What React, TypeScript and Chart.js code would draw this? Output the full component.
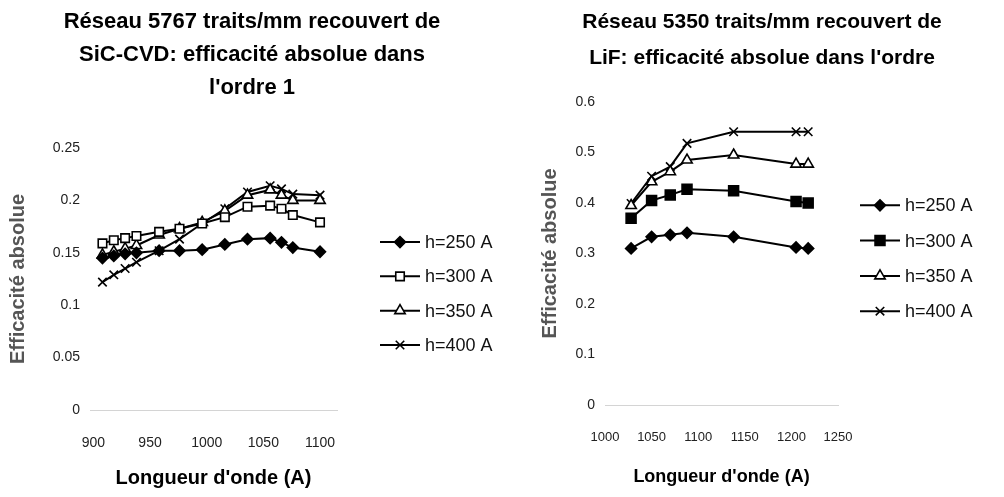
import React, { useEffect, useRef } from 'react';
import { Chart, registerables, layouts } from 'chart.js';
import { drawPoint } from 'chart.js/helpers';

Chart.register(...registerables);

const FONT_FAMILY = '"Liberation Sans", Arial, Helvetica, sans-serif';

// ---------- Shared labels ----------
const seriesLabels = ['h=250 A', 'h=300 A', 'h=350 A', 'h=400 A'];
const yAxisTitle = 'Efficacité absolue';
const xAxisTitle = "Longueur d'onde (A)";

// ---------- Left chart: SiC-CVD ----------
const sicTitle = ['Réseau 5767 traits/mm recouvert de', 'SiC-CVD: efficacité absolue dans', "l'ordre 1"];
const sicWavelengths = [908, 918, 928, 938, 958, 976, 996, 1016, 1036, 1056, 1066, 1076, 1100];
const sicH250 = [0.145, 0.147, 0.149, 0.15, 0.152, 0.152, 0.153, 0.158, 0.163, 0.164, 0.16, 0.155, 0.151];
const sicH300 = [0.159, 0.162, 0.164, 0.166, 0.17, 0.173, 0.178, 0.184, 0.194, 0.195, 0.192, 0.186, 0.179];
const sicH350 = [0.148, 0.151, 0.154, 0.157, 0.167, 0.173, 0.179, 0.19, 0.205, 0.21, 0.205, 0.2, 0.2];
const sicH400 = [0.122, 0.129, 0.135, 0.141, 0.152, 0.163, 0.178, 0.192, 0.208, 0.214, 0.211, 0.206, 0.205];
const sicXTicks = [900, 950, 1000, 1050, 1100];
const sicYTicks = [0, 0.05, 0.1, 0.15, 0.2, 0.25];

// ---------- Right chart: LiF ----------
const lifTitle = ['Réseau 5350 traits/mm recouvert de', "LiF: efficacité absolue dans l'ordre"];
const lifWavelengths = [1028, 1050, 1070, 1088, 1138, 1205, 1218];
const lifH250 = [0.31, 0.333, 0.337, 0.341, 0.333, 0.312, 0.31];
const lifH300 = [0.37, 0.405, 0.416, 0.427, 0.424, 0.403, 0.4];
const lifH350 = [0.395, 0.442, 0.462, 0.485, 0.495, 0.477, 0.477];
const lifH400 = [0.399, 0.453, 0.472, 0.518, 0.541, 0.541, 0.541];
const lifXTicks = [1000, 1050, 1100, 1150, 1200, 1250];
const lifYTicks = [0, 0.1, 0.2, 0.3, 0.4, 0.5, 0.6];

type PanelOpts = {
  title: string[];
  titleSize: number;
  titleLineHeight: number;
  titlePadTop: number;
  titlePadBottom: number;
  xs: number[];
  series: number[][];
  xMin: number;
  xMax: number;
  xTicks: number[];
  yMax: number;
  yTicks: number[];
  squareFilled: boolean;
  yAxisWidth: number;
  xAxisHeight: number;
  xTickSize: number;
  xTickPad: number;
  yTickSize: number;
  yTickPad: number;
  xTitleSize: number;
  xTitlePadBottom: number;
  yTitleSize: number;
  yTitlePadTop: number;
  legendWidth: number;
  legendLineStart: number;
  legendTextStart: number;
  legendRowGap: number;
  legendYOffset: number;
};

// A right-hand layout box that draws an Excel-like legend (line + marker + label)
function makeLegendBox(o: PanelOpts) {
  const box: any = {
    position: 'right',
    weight: 0,
    fullSize: false,
    options: {},
    top: 0,
    left: 0,
    right: 0,
    bottom: 0,
    width: 0,
    height: 0,
    chart: null as any,
    isHorizontal() {
      return false;
    },
    update(_maxWidth: number, maxHeight: number) {
      this.width = o.legendWidth;
      this.height = maxHeight;
    },
    draw() {
      const chart = this.chart;
      if (!chart) return;
      const ctx: CanvasRenderingContext2D = chart.ctx;
      const datasets = chart.data.datasets;
      const n = datasets.length;
      const midY = (this.top + this.bottom) / 2 + o.legendYOffset;
      ctx.save();
      datasets.forEach((ds: any, i: number) => {
        const y = midY + (i - (n - 1) / 2) * o.legendRowGap;
        const x0 = this.left + o.legendLineStart;
        ctx.strokeStyle = ds.borderColor;
        ctx.lineWidth = ds.borderWidth;
        ctx.setLineDash([]);
        ctx.beginPath();
        ctx.moveTo(x0, y);
        ctx.lineTo(x0 + 40, y);
        ctx.stroke();
        ctx.fillStyle = ds.pointBackgroundColor;
        ctx.strokeStyle = ds.pointBorderColor;
        ctx.lineWidth = ds.pointBorderWidth;
        drawPoint(
          ctx,
          { pointStyle: ds.pointStyle, radius: ds.pointRadius, rotation: 0, borderWidth: ds.pointBorderWidth } as any,
          x0 + 20,
          y
        );
        ctx.fillStyle = '#111';
        ctx.font = `18px ${FONT_FAMILY}`;
        ctx.textAlign = 'left';
        ctx.textBaseline = 'middle';
        ctx.fillText(ds.label, this.left + o.legendTextStart, y + 1);
      });
      ctx.restore();
    },
  };
  return box;
}

function buildConfig(o: PanelOpts): any {
  const styles = [
    { pointStyle: 'rectRot', pointRadius: 5.5, bg: '#000' },
    { pointStyle: 'rect', pointRadius: o.squareFilled ? 7 : 6, bg: o.squareFilled ? '#000' : '#fff' },
    { pointStyle: 'triangle', pointRadius: 6, bg: '#fff' },
    { pointStyle: 'crossRot', pointRadius: 6, bg: '#000' },
  ];
  const datasets = o.series.map((ys, i) => ({
    label: seriesLabels[i],
    data: o.xs.map((x, j) => ({ x, y: ys[j] })),
    showLine: true,
    borderColor: '#000',
    borderWidth: 2,
    pointStyle: styles[i].pointStyle,
    pointRadius: styles[i].pointRadius,
    pointBackgroundColor: styles[i].bg,
    pointBorderColor: '#000',
    pointBorderWidth: 1.6,
  }));
  const legendBox = makeLegendBox(o);
  const legendPlugin = {
    id: 'lineLegend',
    beforeInit(chart: any) {
      legendBox.chart = chart;
      layouts.addBox(chart, legendBox);
    },
  };
  const fmt = (v: any) => String(v);
  return {
    type: 'scatter',
    data: { datasets },
    plugins: [legendPlugin],
    options: {
      animation: false,
      responsive: true,
      maintainAspectRatio: false,
      layout: { padding: 0 },
      plugins: {
        tooltip: { enabled: false },
        legend: { display: false },
        title: {
          display: true,
          text: o.title,
          color: '#000',
          font: { family: FONT_FAMILY, size: o.titleSize, weight: 'bold', lineHeight: o.titleLineHeight },
          padding: { top: o.titlePadTop, bottom: o.titlePadBottom },
        },
      },
      scales: {
        x: {
          type: 'linear',
          min: o.xMin,
          max: o.xMax,
          afterBuildTicks: (s: any) => {
            s.ticks = o.xTicks.map((v) => ({ value: v }));
          },
          afterFit: (s: any) => {
            s.height = o.xAxisHeight;
          },
          grid: { display: false, drawTicks: false },
          border: { display: true, color: '#d4d4d4', width: 1, dash: [2, 2] },
          ticks: {
            callback: fmt,
            padding: o.xTickPad,
            maxRotation: 0,
            autoSkip: false,
            color: '#222',
            font: { family: FONT_FAMILY, size: o.xTickSize },
          },
          title: {
            display: true,
            text: xAxisTitle,
            color: '#000',
            font: { family: FONT_FAMILY, size: o.xTitleSize, weight: 'bold', lineHeight: 1.2 },
            padding: { top: 0, bottom: o.xTitlePadBottom },
          },
        },
        y: {
          type: 'linear',
          min: 0,
          max: o.yMax,
          afterBuildTicks: (s: any) => {
            s.ticks = o.yTicks.map((v) => ({ value: v }));
          },
          afterFit: (s: any) => {
            s.width = o.yAxisWidth;
          },
          grid: { display: false, drawTicks: false },
          border: { display: false },
          ticks: {
            callback: fmt,
            padding: o.yTickPad,
            color: '#222',
            font: { family: FONT_FAMILY, size: o.yTickSize },
          },
          title: {
            display: true,
            text: yAxisTitle,
            color: '#555',
            font: { family: FONT_FAMILY, size: o.yTitleSize, weight: 'bold', lineHeight: 1.2 },
            padding: { top: o.yTitlePadTop, bottom: 0 },
          },
        },
      },
    },
  };
}

const leftOpts: PanelOpts = {
  title: sicTitle,
  titleSize: 22,
  titleLineHeight: 1.5,
  titlePadTop: 5.5,
  titlePadBottom: 43.5,
  xs: sicWavelengths,
  series: [sicH250, sicH300, sicH350, sicH400],
  xMin: 897,
  xMax: 1115,
  xTicks: sicXTicks,
  yMax: 0.25,
  yTicks: sicYTicks,
  squareFilled: false,
  yAxisWidth: 90,
  xAxisHeight: 87,
  xTickSize: 14,
  xTickPad: 24.6,
  yTickSize: 14,
  yTickPad: 10,
  xTitleSize: 20,
  xTitlePadBottom: 7,
  yTitleSize: 20,
  yTitlePadTop: 6,
  legendWidth: 167,
  legendLineStart: 43,
  legendTextStart: 88,
  legendRowGap: 34.3,
  legendYOffset: 14.5,
};

const rightOpts: PanelOpts = {
  title: lifTitle,
  titleSize: 21,
  titleLineHeight: 1.714,
  titlePadTop: 4,
  titlePadBottom: 26,
  xs: lifWavelengths,
  series: [lifH250, lifH300, lifH350, lifH400],
  xMin: 1000,
  xMax: 1250,
  xTicks: lifXTicks,
  yMax: 0.6,
  yTicks: lifYTicks,
  squareFilled: true,
  yAxisWidth: 85,
  xAxisHeight: 92,
  xTickSize: 13,
  xTickPad: 24.2,
  yTickSize: 14,
  yTickPad: 10,
  xTitleSize: 18,
  xTitlePadBottom: 9.2,
  yTitleSize: 20,
  yTitlePadTop: 18,
  legendWidth: 166,
  legendLineStart: 22,
  legendTextStart: 67,
  legendRowGap: 35.3,
  legendYOffset: 4.75,
};

function ChartPanel({ opts, left, width }: { opts: PanelOpts; left: number; width: number }) {
  const ref = useRef<HTMLCanvasElement>(null);
  useEffect(() => {
    const chart = new Chart(ref.current!, buildConfig(opts));
    return () => chart.destroy();
  }, [opts]);
  return (
    <div style={{ position: 'absolute', left, top: 0, width, height: 497 }}>
      <canvas ref={ref} />
    </div>
  );
}

export default function App() {
  return (
    <div style={{ position: 'absolute', left: 0, top: 0, width: 1004, height: 497, background: '#fff' }}>
      <ChartPanel opts={leftOpts} left={0} width={504} />
      <ChartPanel opts={rightOpts} left={520} width={484} />
    </div>
  );
}
